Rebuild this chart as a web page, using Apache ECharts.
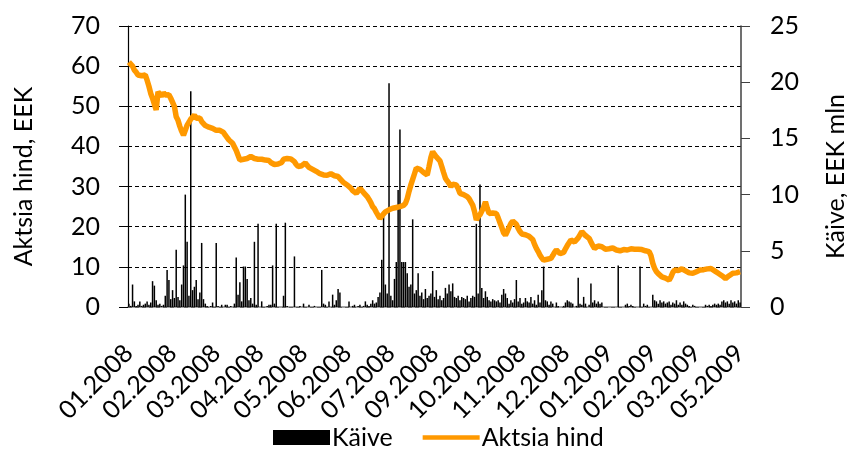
<!DOCTYPE html>
<html>
<head>
<meta charset="utf-8">
<script src="https://cdn.jsdelivr.net/npm/echarts@6/dist/echarts.min.js"></script>
<style>
html,body{margin:0;padding:0;background:#fff;}
#chart{width:847px;height:449px;}
</style>
</head>
<body>
<div id="chart"></div>
<script>
// Tick labels shown on the category axis (one every 24 trading days)
var tickLabels = ['01.2008','02.2008','03.2008','04.2008','05.2008','06.2008','07.2008','09.2008','10.2008','11.2008','12.2008','01.2009','02.2009','03.2009','05.2009'];
var labelStep = 24;

// Share price, EEK (daily)
var price = [
61.0,60.6,60.0,59.0,58.5,57.8,58.0,57.6,57.4,57.8,
56.5,55.0,53.2,52.0,50.5,49.1,53.6,53.0,52.5,53.4,
52.8,52.4,52.9,52.0,51.6,50.0,47.4,46.5,45.0,43.8,
42.8,44.0,45.3,46.0,46.8,47.2,47.8,47.0,46.6,47.1,
46.2,45.8,45.2,45.0,44.8,44.6,44.5,44.2,44.0,44.3,
44.0,44.1,43.5,42.8,42.2,41.6,41.2,40.8,40.4,39.0,
37.8,36.6,36.4,36.8,36.8,37.0,36.9,37.5,37.4,37.0,
37.2,36.8,37.0,36.8,37.1,36.6,36.3,36.5,36.0,35.8,
35.5,35.8,35.6,35.4,36.0,36.8,37.2,37.0,36.6,36.9,
36.5,36.2,35.5,35.0,34.6,35.2,35.5,35.9,35.3,34.8,
34.5,34.3,34.1,33.8,33.5,33.2,33.0,32.9,33.1,32.8,
33.0,33.2,33.0,32.7,32.9,32.5,32.0,31.5,31.0,30.8,
30.4,30.0,29.6,29.0,28.8,28.3,28.9,29.6,29.2,28.5,
28.0,27.5,26.8,26.0,25.0,24.5,23.6,22.8,22.1,22.6,
23.2,23.7,23.9,24.2,24.4,24.6,24.5,24.8,24.6,25.0,
24.9,25.3,25.8,27.0,28.8,30.4,31.8,33.2,34.6,34.9,
34.3,34.1,33.5,33.2,32.9,35.0,37.2,38.7,38.0,37.4,
37.0,36.4,35.0,33.5,32.1,31.4,30.8,30.0,30.6,30.8,
30.4,29.5,28.3,28.6,28.0,27.8,27.5,27.0,26.2,25.4,
23.8,21.7,22.5,23.0,23.3,24.8,26.2,24.6,23.3,23.5,
23.4,23.6,23.3,22.2,21.0,19.8,18.5,17.9,18.8,19.9,
20.8,21.4,21.7,20.6,19.6,18.8,18.2,18.5,18.0,17.8,
17.6,17.5,16.8,15.6,14.6,13.8,12.9,12.2,11.7,11.8,
11.9,12.0,12.1,12.8,13.6,14.2,13.8,13.3,13.0,13.6,
14.5,15.3,16.0,16.7,16.5,16.2,16.3,17.2,18.0,18.8,
18.4,17.8,17.4,17.1,16.2,15.3,14.6,14.8,15.2,15.5,
15.0,14.6,14.4,14.2,14.5,14.8,14.7,14.6,14.2,13.8,
14.0,14.1,14.3,14.0,14.2,14.4,14.5,14.3,14.4,14.6,
14.4,14.2,14.3,14.1,14.0,14.0,13.8,12.8,10.9,9.6,
8.8,8.3,8.0,7.5,7.3,7.2,7.0,6.7,7.5,8.6,
9.2,9.4,9.1,9.3,9.5,9.2,9.0,8.8,8.5,8.2,
8.4,8.6,8.8,9.0,9.2,9.1,9.3,9.4,9.5,9.6,
9.6,9.3,9.0,8.7,8.4,8.1,7.8,7.4,7.1,7.3,
7.8,8.2,8.4,8.3,8.5,8.7,8.8
];

// Turnover, EEK mln (daily)
var volume = [
0.3,0.1,2.0,0.5,0.1,0.2,0.5,0.1,0.2,0.3,
0.5,0.2,0.4,2.3,1.9,0.6,0.2,0.3,0.1,0.2,
1.0,3.3,2.4,0.7,1.5,0.8,5.1,0.9,0.6,2.0,
3.7,10.0,5.8,1.0,19.2,1.5,1.8,2.4,0.7,1.3,
5.7,0.7,0.3,0.1,0.0,0.1,0.4,0.0,5.7,0.1,
0.0,0.2,0.0,0.2,0.2,0.0,0.1,0.0,0.3,4.4,
1.1,2.2,0.5,3.6,3.6,2.5,0.6,0.8,0.3,5.8,
0.2,7.4,0.0,0.5,0.0,0.0,0.1,0.2,0.2,3.7,
0.3,7.4,0.0,0.0,0.0,1.0,7.5,0.1,0.0,0.0,
0.0,4.5,0.0,0.0,0.1,0.0,0.3,0.0,0.0,0.2,
0.0,0.0,0.1,0.0,0.0,0.0,3.3,0.3,0.2,0.0,
0.5,0.0,1.1,0.2,0.6,1.6,1.3,0.0,0.0,0.0,
0.0,0.5,0.0,0.1,0.2,0.0,0.1,0.2,0.0,0.1,
0.5,0.2,0.1,0.3,0.6,0.3,0.4,0.9,1.3,4.2,
8.0,2.0,1.2,19.9,1.0,0.6,2.5,4.0,10.4,15.8,
4.0,4.0,4.0,3.0,1.8,2.0,7.8,1.2,1.5,3.0,
1.0,1.3,0.7,1.6,0.8,1.0,1.2,3.2,0.9,1.5,
0.7,1.0,0.6,0.8,1.7,1.2,2.0,1.4,2.1,0.9,
0.8,1.0,0.6,0.9,0.8,0.7,1.0,0.5,0.8,1.0,
0.9,7.4,1.2,10.9,1.7,0.8,1.4,0.9,0.6,0.5,
0.7,0.6,0.5,0.6,0.4,1.1,1.6,1.2,0.8,0.3,
0.6,0.4,0.7,2.4,0.5,0.8,0.3,0.4,0.8,0.5,
0.4,0.9,0.3,0.6,0.2,1.1,0.4,1.5,3.6,0.6,
0.5,0.2,0.5,0.3,0.0,0.4,0.1,0.0,0.0,0.1,
0.4,0.6,0.5,0.4,0.3,0.0,0.1,2.6,0.3,0.2,
0.9,0.3,0.0,0.2,2.1,0.4,0.6,0.3,0.5,0.3,
0.4,0.0,0.0,0.0,0.0,0.0,0.0,0.0,0.0,3.7,
0.0,0.0,0.0,0.2,0.3,0.1,0.2,0.1,0.0,0.0,
0.0,3.6,0.0,0.3,0.1,0.2,0.0,0.0,1.1,0.6,
0.5,0.3,0.6,0.4,0.5,0.3,0.4,0.5,0.2,0.4,
0.3,0.6,0.2,0.4,0.2,0.5,0.3,0.2,0.1,0.0,
0.2,0.1,0.0,0.0,0.0,0.0,0.0,0.2,0.1,0.2,
0.1,0.2,0.3,0.2,0.3,0.2,0.5,0.6,0.4,0.5,
0.3,0.6,0.4,0.5,0.3,0.6,0.4
];

var leftAxisName = 'Aktsia hind, EEK';
var rightAxisName = 'Käive, EEK mln';
var volumeName = 'Käive';
var priceName = 'Aktsia hind';

// Category axis: one category per trading day, labelled every labelStep days
var categories = price.map(function (v, i) {
  return (i % labelStep === 0 && tickLabels[i / labelStep]) ? tickLabels[i / labelStep] : '';
});

var FONT = 'Lato';
var chart = echarts.init(document.getElementById('chart'), null, {renderer: 'canvas'});
chart.setOption({
  animation: false,
  backgroundColor: '#ffffff',
  textStyle: {fontFamily: FONT},
  grid: {left: 128, right: 106, top: 26, bottom: 142, containLabel: false, outerBoundsMode: 'none'},
  legend: {
    left: 268, top: 420,
    itemWidth: 57, itemHeight: 15, itemGap: 30,
    textStyle: {fontFamily: FONT, fontSize: 25, color: '#000', padding: [0, 0, 0, -3]},
    data: [
      {name: volumeName, icon: 'rect'},
      {name: priceName, icon: 'path://M0,0 L62,0 L62,5 L0,5 Z'}
    ]
  },
  xAxis: {
    type: 'category',
    data: categories,
    boundaryGap: true,
    axisLine: {show: true, lineStyle: {color: '#868686', width: 1.5}},
    axisTick: {show: false},
    axisLabel: {
      interval: labelStep - 1,
      rotate: 45,
      margin: 42,
      fontFamily: FONT, fontSize: 25, color: '#000'
    },
    splitLine: {show: false}
  },
  yAxis: [
    {
      type: 'value', position: 'left',
      min: 0, max: 70, interval: 10,
      name: leftAxisName, nameLocation: 'middle', nameRotate: 90, nameGap: 92,
      nameTextStyle: {fontFamily: FONT, fontSize: 25, color: '#000', padding: [0, 20, 0, 0]},
      axisLine: {show: true, lineStyle: {color: '#000', width: 1.2}},
      axisTick: {show: true, inside: false, length: 9, lineStyle: {color: '#000'}},
      axisLabel: {margin: 28, fontFamily: FONT, fontSize: 25, color: '#000'},
      splitLine: {show: true, lineStyle: {color: '#000', type: [4, 3], width: 1}}
    },
    {
      type: 'value', position: 'right',
      min: 0, max: 25, interval: 5,
      name: rightAxisName, nameLocation: 'middle', nameRotate: 90, nameGap: 82,
      nameTextStyle: {fontFamily: FONT, fontSize: 25, color: '#000', padding: [0, 20, 0, 0]},
      axisLine: {show: true, lineStyle: {color: '#404040', width: 1.5}},
      axisTick: {show: true, inside: false, length: 9, lineStyle: {color: '#404040'}},
      axisLabel: {margin: 29, fontFamily: FONT, fontSize: 25, color: '#000'},
      splitLine: {show: false}
    }
  ],
  series: [
    {
      name: volumeName,
      type: 'bar',
      yAxisIndex: 1,
      data: volume,
      barWidth: 1.5,
      itemStyle: {color: '#000'},
      z: 2
    },
    {
      name: priceName,
      type: 'line',
      yAxisIndex: 0,
      data: price,
      symbol: 'none',
      lineStyle: {color: '#FF9900', width: 5.5},
      itemStyle: {color: '#FF9900'},
      z: 3
    }
  ]
});
</script>
</body>
</html>
